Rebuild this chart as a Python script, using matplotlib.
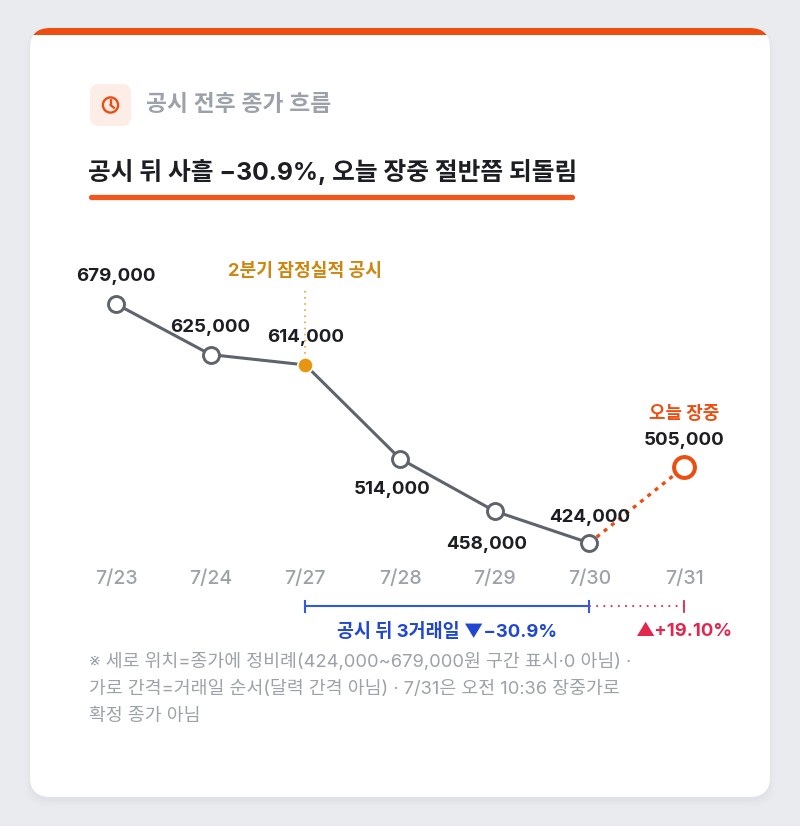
import matplotlib
matplotlib.use('Agg')
import matplotlib.pyplot as plt
from matplotlib.patches import FancyBboxPatch, Rectangle, Circle
from matplotlib.transforms import blended_transform_factory
import numpy as np

# ---------------- data ----------------
dates = ['7/23', '7/24', '7/27', '7/28', '7/29', '7/30', '7/31']
closes = [679000, 625000, 614000, 514000, 458000, 424000]
intraday_price = 505000
disclosure_index = 2
drop_pct_label = '공시 뒤 3거래일 ▼−30.9%'
rebound_pct_label = '▲+19.10%'
subtitle = '공시 전후 종가 흐름'
title = '공시 뒤 사흘 −30.9%, 오늘 장중 절반쯤 되돌림'
event_label = '2분기 잠정실적 공시'
today_label = '오늘 장중'
footnote = ['※ 세로 위치=종가에 정비례(424,000~679,000원 구간 표시·0 아님) ·',
            '가로 간격=거래일 순서(달력 간격 아님) · 7/31은 오전 10:36 장중가로',
            '확정 종가 아님']

FONT = ['Inter', 'Noto Sans CJK KR', 'DejaVu Sans']
plt.rcParams['font.family'] = FONT

ORANGE = '#ee4d10'
GOLD = '#e8960f'
GOLD_TXT = '#cf860f'
LINE = '#5e636e'
DARK = '#1c1e24'
GRAY = '#9ca1aa'
BLUE = '#2f5be0'
BLUE_TXT = '#1f47d0'
RED = '#e2264d'

W, H = 800, 826
fig = plt.figure(figsize=(W / 100, H / 100), dpi=100)
fig.patch.set_facecolor('#e9ebef')

# overlay in pixel coordinates (y down)
ov = fig.add_axes([0, 0, 1, 1])
ov.set_xlim(0, W)
ov.set_ylim(H, 0)
ov.axis('off')

# card shadow
for i, a in enumerate([0.05, 0.035, 0.025, 0.015]):
    s = FancyBboxPatch((30 - i * 2, 30 - i * 1 + 2), 740 + i * 4, 769 + i * 3,
                       boxstyle='round,pad=0,rounding_size=22', fc='#a8adb6', ec='none', alpha=a)
    ov.add_patch(s)
card = FancyBboxPatch((30, 28), 740, 769, boxstyle='round,pad=0,rounding_size=20',
                      fc='white', ec='none')
ov.add_patch(card)
band = Rectangle((0, 0), W, 35, fc=ORANGE, ec='none')
ov.add_patch(band)
band.set_clip_path(card)

# header icon
icon = FancyBboxPatch((90, 84), 41, 42, boxstyle='round,pad=0,rounding_size=9',
                      fc='#fdede7', ec='none')
ov.add_patch(icon)
ov.add_patch(Circle((110.5, 105), 7.6, fc='none', ec=ORANGE, lw=1.7))
ov.plot([110.5, 110.5], [105, 100.3], color=ORANGE, lw=1.7, solid_capstyle='round')
ov.plot([110.5, 114], [105, 107.8], color=ORANGE, lw=1.7, solid_capstyle='round')

ov.text(146, 105, subtitle, fontsize=16.4, color=GRAY, va='center', ha='left',
        fontweight='semibold')
ov.text(88, 172, title, fontsize=17.8, color=DARK, va='center', ha='left',
        fontweight='bold')
ov.plot([91, 572], [197, 197], color='#f3561c', lw=3.8, solid_capstyle='round')

# ---------------- chart axes ----------------
top_px, bot_px = 250, 560
x0_px, x6_px = 116, 684
unit = (x6_px - x0_px) / 6
left_px = x0_px - 0.5 * unit
right_px = x6_px + 0.5 * unit
ax = fig.add_axes([left_px / W, (H - bot_px) / H, (right_px - left_px) / W,
                   (bot_px - top_px) / H])
ax.patch.set_alpha(0)
ax.set_xlim(-0.5, 6.5)
ax.set_ylim(405862, 736615)
for s in ax.spines.values():
    s.set_visible(False)
ax.set_yticks([])
ax.set_xticks(range(len(dates)))
ax.set_xticklabels(dates, fontsize=14, color=GRAY, fontweight='medium')
ax.tick_params(axis='x', length=0, pad=7)

xs = np.arange(len(closes))
ax.plot(xs, closes, color=LINE, lw=2.2, zorder=2, solid_joinstyle='round')
# intraday dotted
ax.plot([xs[-1], len(closes)], [closes[-1], intraday_price], color=ORANGE, lw=2.4,
        ls=(0, (1.2, 1.6)), dash_capstyle='butt', zorder=2)

for i, v in enumerate(closes):
    if i == disclosure_index:
        ax.plot(i, v, 'o', ms=11, mfc=GOLD, mec='white', mew=1.2, zorder=4)
    else:
        ax.plot(i, v, 'o', ms=11.5, mfc='white', mec=LINE, mew=2.1, zorder=4)
ax.plot(len(closes), intraday_price, 'o', ms=15, mfc='white', mec=ORANGE, mew=2.9, zorder=4)

# value labels: offsets in pixels
offsets = [(0, 27), (0, 27), (0, 27), (-8, -31), (-8, -33), (0, 26)]
VAL_FS = 13.5
for i, (v, off) in enumerate(zip(closes, offsets)):
    ax.annotate(f'{v:,}', (i, v), xytext=off, textcoords='offset pixels',
                ha='center', va='center', fontsize=VAL_FS, fontweight='bold',
                color=DARK, zorder=5)
ax.annotate(f'{intraday_price:,}', (len(closes), intraday_price), xytext=(0, 27),
            textcoords='offset pixels', ha='center', va='center', fontsize=VAL_FS,
            fontweight='bold', color=DARK, zorder=5)
ax.annotate(today_label, (len(closes), intraday_price), xytext=(0, 53),
            textcoords='offset pixels', ha='center', va='center', fontsize=12.9,
            fontweight='bold', color=ORANGE, zorder=5)

# disclosure marker
trX = blended_transform_factory(ax.transData, ov.transData)
ov.plot([disclosure_index, disclosure_index], [291, 356], transform=trX, color=GOLD,
        lw=1.1, ls=(0, (1, 3)), zorder=1)
ov.text(disclosure_index, 272, event_label, transform=trX, ha='center', va='center',
        fontsize=13.1, fontweight='bold', color=GOLD_TXT)

# bracket
by = 606
last = len(closes) - 1
ov.plot([disclosure_index, last], [by, by], transform=trX, color=BLUE, lw=1.5)
for xi in (disclosure_index, last):
    ov.plot([xi, xi], [by - 5.5, by + 5.5], transform=trX, color=BLUE, lw=1.5)
ov.plot([last, len(closes)], [by, by], transform=trX, color=RED, lw=1.3,
        ls=(0, (1, 3)))
ov.plot([len(closes), len(closes)], [by - 5.5, by + 5.5], transform=trX, color=RED, lw=1.3)
ov.text((disclosure_index + last) / 2, 632, drop_pct_label, transform=trX, ha='center',
        va='center', fontsize=13.3, fontweight='bold', color=BLUE_TXT)
ov.text(len(closes), 632, rebound_pct_label, transform=trX, ha='center', va='center',
        fontsize=13.3, fontweight='bold', color=RED)

for k, line in enumerate(footnote):
    ov.text(89, 662 + k * 27, line, fontsize=13.2, color=GRAY, ha='left', va='center')

fig.savefig('out.png', dpi=100, facecolor=fig.get_facecolor())
